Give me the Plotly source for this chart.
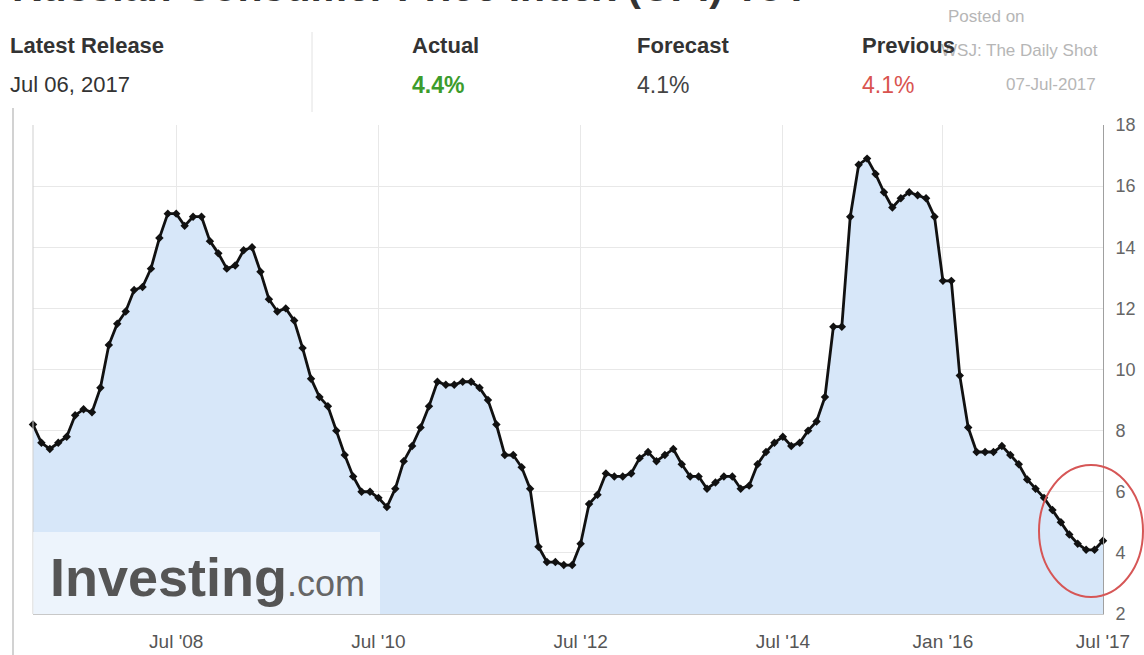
import pandas as pd
import plotly.graph_objects as go

# Russia CPI YoY (%), one value per release, oldest first (Feb 2007 .. Jul 2017)
cpi_yoy = [
    8.2, 7.6, 7.4, 7.6, 7.8, 8.5, 8.7, 8.6, 9.4, 10.8, 11.5, 11.9,
    12.6, 12.7, 13.3, 14.3, 15.1, 15.1, 14.7, 15.0, 15.0, 14.2, 13.8, 13.3,
    13.4, 13.9, 14.0, 13.2, 12.3, 11.9, 12.0, 11.6, 10.7, 9.7, 9.1, 8.8,
    8.0, 7.2, 6.5, 6.0, 6.0, 5.8, 5.5, 6.1, 7.0, 7.5, 8.1, 8.8,
    9.6, 9.5, 9.5, 9.6, 9.6, 9.4, 9.0, 8.2, 7.2, 7.2, 6.8, 6.1,
    4.2, 3.7, 3.7, 3.6, 3.6, 4.3, 5.6, 5.9, 6.6, 6.5, 6.5, 6.6,
    7.1, 7.3, 7.0, 7.2, 7.4, 6.9, 6.5, 6.5, 6.1, 6.3, 6.5, 6.5,
    6.1, 6.2, 6.9, 7.3, 7.6, 7.8, 7.5, 7.6, 8.0, 8.3, 9.1, 11.4,
    11.4, 15.0, 16.7, 16.9, 16.4, 15.8, 15.3, 15.6, 15.8, 15.7, 15.6, 15.0,
    12.9, 12.9, 9.8, 8.1, 7.3, 7.3, 7.3, 7.5, 7.2, 6.9, 6.4, 6.1,
    5.8, 5.4, 5.0, 4.6, 4.3, 4.1, 4.1, 4.4,
]

# Release months; January 2015 and January 2016 each carry two releases
release_month = [str(p) for p in pd.period_range("2007-02", "2017-07", freq="M")]
for repeated in ("2015-01", "2016-01"):
    release_month.insert(release_month.index(repeated) + 1, repeated)

# Ordinal x axis: each release gets one slot
slot = list(range(len(release_month)))

tick_months = ["2008-07", "2010-07", "2012-07", "2014-07", "2016-01", "2017-07"]
tick_labels = ["Jul '08", "Jul '10", "Jul '12", "Jul '14", "Jan '16", "Jul '17"]
tick_slots = [release_month.index(m) for m in tick_months]

y_ticks = [2, 4, 6, 8, 10, 12, 14, 16, 18]

latest_release = "Jul 06, 2017"
actual, forecast, previous = "4.4%", "4.1%", "4.1%"

W, H = 1144, 655
ML, MR, MT, MB = 33, 41, 125, 41
PW, PH = W - ML - MR, H - MT - MB
FONT = "Liberation Sans, Arial, sans-serif"


def px(x):
    return (x - ML) / PW


def py(y):
    return 1 - (y - MT) / PH


fig = go.Figure()
fig.add_trace(go.Scatter(
    x=slot, y=cpi_yoy, customdata=release_month,
    mode="lines+markers",
    line=dict(color="#111111", width=2.8),
    marker=dict(symbol="diamond", size=6.5, color="#111111"),
    fill="tozeroy", fillcolor="#d7e7f9",
    cliponaxis=False,
    hovertemplate="%{customdata}: %{y}%<extra></extra>",
))

annotations = []


def text(x, y, s, size, color, bold=False, xanchor="left", yanchor="middle"):
    annotations.append(dict(
        xref="paper", yref="paper", x=px(x), y=py(y), text=f"<b>{s}</b>" if bold else s,
        showarrow=False, xanchor=xanchor, yanchor=yanchor,
        font=dict(family=FONT, size=size, color=color),
    ))


# page heading, mostly above the visible area
text(10, 12.5, "Russian Consumer Price Index (CPI) YoY", 41, "#333333", bold=True, yanchor="bottom")

# release summary
text(8, 46, "Latest Release", 22, "#333333", bold=True)
text(8, 85, latest_release, 22, "#333333")
text(410, 46, "Actual", 22, "#333333", bold=True)
text(410, 85, actual, 23, "#3c9c2c", bold=True)
text(635, 46, "Forecast", 22, "#333333", bold=True)
text(635, 85, forecast, 23, "#444444")
# stamp sits behind the "Previous" column
text(946, 17, "Posted on", 17, "#b6b6b6")
text(1100, 50, "WSJ: The Daily Shot", 17, "#b6b6b6", xanchor="right")
text(1098, 85, "07-Jul-2017", 17, "#b6b6b6", xanchor="right")
text(860, 46, "Previous", 22, "#333333", bold=True)
text(860, 85, previous, 23, "#d9534f")

# watermark
text(48, 577, "<b>Investing</b><span style='font-size:36px;color:#666666'>.com</span>",
     54, "#555555")

shapes = [
    # column separator in the header
    dict(type="line", xref="paper", yref="paper", x0=px(312), x1=px(312), y0=py(32), y1=py(112),
         line=dict(color="#e2e2e2", width=1)),
    # outer panel edge
    dict(type="line", xref="paper", yref="paper", x0=px(13), x1=px(13), y0=py(108), y1=py(H),
         line=dict(color="#d2d2d2", width=2)),
    # left border of the plot area
    dict(type="line", xref="paper", yref="paper", x0=0, x1=0, y0=0, y1=1,
         line=dict(color="#cfcfcf", width=1)),
    # watermark backing
    dict(type="rect", xref="paper", yref="paper", x0=0, x1=px(380), y0=0, y1=py(532),
         fillcolor="rgba(255,255,255,0.55)", line=dict(width=0), layer="above"),
    # highlight around the latest readings
    dict(type="circle", xref="paper", yref="paper", x0=px(1039), x1=px(1143), y0=py(597), y1=py(465),
         line=dict(color="#d65656", width=2)),
]

fig.update_layout(
    width=W, height=H,
    margin=dict(l=ML, r=MR, t=MT, b=MB),
    paper_bgcolor="white", plot_bgcolor="white",
    showlegend=False,
    font=dict(family=FONT, color="#555555"),
    annotations=annotations,
    shapes=shapes,
    xaxis=dict(
        range=[0, len(slot) - 1], automargin=False,
        tickmode="array", tickvals=tick_slots, ticktext=tick_labels,
        showgrid=True, gridcolor="#e8e8e8", gridwidth=1,
        showline=True, linecolor="#c8c8c8", linewidth=1,
        zeroline=False, ticks="", ticklabelstandoff=10,
        tickfont=dict(family=FONT, size=19, color="#555555"),
    ),
    yaxis=dict(
        side="right", range=[2, 18], automargin=False,
        tickmode="array", tickvals=y_ticks,
        showgrid=True, gridcolor="#e8e8e8", gridwidth=1,
        showline=True, linecolor="#a0a0a0", linewidth=1,
        zeroline=False, ticks="", ticklabelstandoff=8,
        tickfont=dict(family=FONT, size=18, color="#666666"),
    ),
)

fig.write_html("out.html")
